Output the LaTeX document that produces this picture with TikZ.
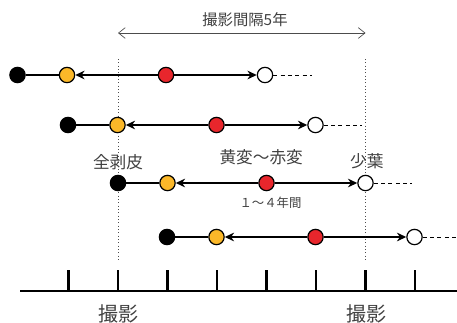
\documentclass[tikz,border=0pt]{standalone}
\usepackage{fontspec}
\newfontfamily\jpfont{Noto Sans CJK JP}
\usepackage{tikz}
\usetikzlibrary{positioning,arrows,arrows.meta}
\definecolor{leafyellow}{HTML}{FBB829}
\definecolor{leafred}{HTML}{E8262C}
\definecolor{labelgray}{HTML}{404040}
\newcommand{\shotlabel}{撮影}

\begin{document}
\begin{tikzpicture}[x=0.75pt,y=-0.75pt,>={Stealth[length=7pt,width=6.5pt]},semithick,node distance=37.125pt,
                    every node/.style={text=labelgray}]
  \tikzstyle{stage}=[circle,draw=black,line width=0.9pt,minimum size=11.5pt,inner sep=0pt]
  \tikzstyle{peeled}=[stage,fill=black]
  \tikzstyle{yellowed}=[stage,fill=leafyellow]
  \tikzstyle{reddened}=[stage,fill=leafred]
  \tikzstyle{fallen}=[stage,fill=white]
  \tikzstyle{lead}=[line width=1.3pt,-]
  \tikzstyle{span}=[line width=1.7pt,->]
  \tikzstyle{tail}=[line width=0.75pt,dash pattern=on 3pt off 2.5pt,-]
  \tikzstyle{guide}=[line width=0.5pt,dotted,black!70]

  \useasboundingbox (0,0) rectangle (457,322);

  % photo dates
  \coordinate (shotA) at (118,59);
  \coordinate (shotB) at (365.5,59);
  \coordinate (shotAend) at (118,262);
  \coordinate (shotBend) at (365.5,262);
  \draw[guide] (shotA) -- (shotAend);
  \draw[guide] (shotB) -- (shotBend);

  \coordinate (gapL) at (118,33);
  \coordinate (gapR) at (365.5,33);
  \draw[black!70,line width=0.5pt,{Straight Barb[length=5pt,width=8pt]}-{Straight Barb[length=5pt,width=8pt]}]
    (gapL) -- (gapR);
  \node[font=\jpfont\fontsize{11.5}{12}\selectfont] (gap) at (245,20) {撮影間隔5年};

  % trees
  \node[peeled]   (b1) at (17.5,75) {};
  \node[yellowed] (y1) [right of=b1] {};
  \node[reddened] (r1) [right of=y1, node distance=74.25pt] {};
  \node[fallen]   (w1) [right of=r1, node distance=74.25pt] {};
  \coordinate[right of=w1, node distance=35pt] (e1);

  \node[peeled]   (b2) at (68,125) {};
  \node[yellowed] (y2) [right of=b2] {};
  \node[reddened] (r2) [right of=y2, node distance=74.25pt] {};
  \node[fallen]   (w2) [right of=r2, node distance=74.25pt] {};
  \coordinate[right of=w2, node distance=35pt] (e2);

  \node[peeled]   (b3) at (118,183) {};
  \node[yellowed] (y3) [right of=b3] {};
  \node[reddened] (r3) [right of=y3, node distance=74.25pt] {};
  \node[fallen]   (w3) [right of=r3, node distance=74.25pt] {};
  \coordinate[right of=w3, node distance=35pt] (e3);

  \node[peeled]   (b4) at (167,237) {};
  \node[yellowed] (y4) [right of=b4] {};
  \node[reddened] (r4) [right of=y4, node distance=74.25pt] {};
  \node[fallen]   (w4) [right of=r4, node distance=74.25pt] {};
  \coordinate[right of=w4, node distance=34pt] (e4);

  \path (b1) edge[lead] (y1)
        (r1) edge[span] (y1)
        (r1) edge[span] (w1)
        (w1) edge[tail] (e1)
        (b2) edge[lead] (y2)
        (r2) edge[span] (y2)
        (r2) edge[span] (w2)
        (w2) edge[tail] (e2)
        (b3) edge[lead] (y3)
        (r3) edge[span] (y3)
        (r3) edge[span] (w3)
        (w3) edge[tail] (e3)
        (b4) edge[lead] (y4)
        (r4) edge[span] (y4)
        (r4) edge[span] (w4)
        (w4) edge[tail] (e4);

  \node[font=\jpfont\fontsize{12.5}{13}\selectfont] (peel) [above of=b3, node distance=16pt] {全剥皮};
  \node[font=\jpfont\fontsize{12.5}{13}\selectfont] (turn) [above of=r3, node distance=19.5pt, xshift=-4pt] {黄変～赤変};
  \node[font=\jpfont\fontsize{12.5}{13}\selectfont] (few) [above of=w3, node distance=16pt, xshift=1pt] {少葉};
  \node[font=\jpfont\fontsize{9.3}{10}\selectfont] (years) [below of=r3, node distance=15pt, xshift=3pt] {１～４年間};

  % time axis
  \coordinate (axL) at (20,291);
  \coordinate (axR) at (457,291);
  \draw[line width=2.2pt] (axL) -- (axR);
  \foreach \k in {-1,...,6}
    \draw[line width=1.8pt] (118+49.5*\k,270) -- (118+49.5*\k,291);

  \node[font=\jpfont\fontsize{15}{16}\selectfont] (shotAlabel) at (118,314) {\shotlabel};
  \node[font=\jpfont\fontsize{15}{16}\selectfont] (shotBlabel) at (366,314) {\shotlabel};

\end{tikzpicture}
\end{document}
